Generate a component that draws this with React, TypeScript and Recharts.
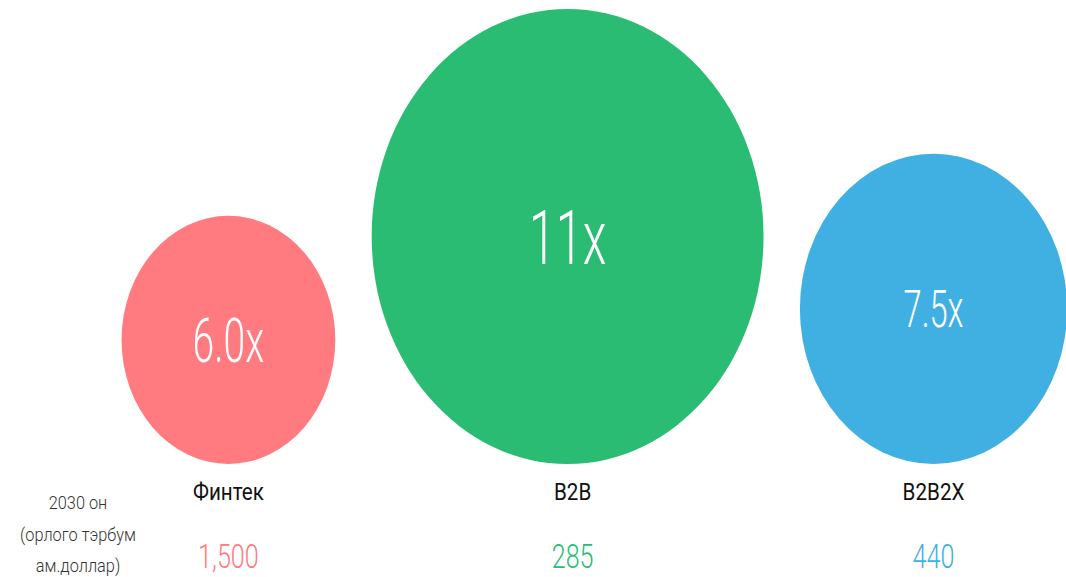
import { BarChart, Bar, XAxis, YAxis, LabelList } from 'recharts';

// chart data
const categories = ['Финтек', 'B2B', 'B2B2X'];
const multiples = [6.0, 11, 7.5];
const multipleLabels = ['6.0x', '11x', '7.5x'];
const revenue2030 = [1500, 285, 440];
const noteLines = ['2030 он', '(орлого тэрбум', 'ам.доллар)'];

const COLORS = ['#FF7B7F', '#2BBC74', '#40B0E3'];
const BUBBLE_FONT = [61, 76, 51];
const FONT = 'Roboto, "Liberation Sans", sans-serif';

const W = 1066;
const H = 577;
const MARGIN = { top: 9, right: 0, bottom: 113, left: 0 };
const Y_MAX = 11;
const ASPECT = 1.161; // bubble height / width
const LEFT_PAD = 3.4; // in multiple-units
const GAP = 1.02;

const plotH = H - MARGIN.top - MARGIN.bottom;
const unitPx = plotH / Y_MAX / ASPECT;
const X_MAX = W / unitPx;
const baseline = MARGIN.top + plotH;

let cursor = LEFT_PAD;
const data = categories.map((name, i) => {
  const pos = cursor + multiples[i] / 2;
  cursor += multiples[i] + GAP;
  return { name, pos, multiple: multiples[i], revenue: revenue2030[i] };
});

const Bubble = (props: any) => {
  const { x, y, width, height, index } = props;
  const cx = x + width / 2;
  const ry = height / 2;
  const rx = ry / ASPECT;
  const cy = y + ry;
  const fs = BUBBLE_FONT[index];
  return (
    <g>
      <ellipse cx={cx} cy={cy} rx={rx} ry={ry} fill={COLORS[index]} />
      <text
        transform={`translate(${cx},${cy + fs * 0.36}) scale(0.64,1)`}
        textAnchor="middle"
        fill="#fff"
        fontSize={fs}
        fontFamily={FONT}
        fontWeight={300}
      >
        {multipleLabels[index]}
      </text>
    </g>
  );
};

const CategoryLabel = (props: any) => {
  const { x, width, index } = props;
  const cx = Number(x) + Number(width) / 2 + (index === 1 ? 5 : 0);
  return (
    <g>
      <text
        transform={`translate(${cx},${baseline + 36}) scale(0.86,1)`}
        textAnchor="middle"
        fill="#111"
        fontSize={24}
        fontFamily={FONT}
      >
        {categories[index]}
      </text>
      <text
        transform={`translate(${cx},${baseline + 104}) scale(0.74,1)`}
        textAnchor="middle"
        fill={COLORS[index]}
        fontSize={34}
        fontFamily={FONT}
        fontWeight={300}
      >
        {revenue2030[index].toLocaleString('en-US')}
      </text>
    </g>
  );
};

export default function App() {
  return (
    <div style={{ position: 'absolute', left: 0, top: 0, width: W, height: H, background: '#fff' }}>
      <BarChart width={W} height={H} data={data} margin={MARGIN}>
        <XAxis type="number" dataKey="pos" domain={[0, X_MAX]} hide />
        <YAxis type="number" domain={[0, Y_MAX]} hide />
        <Bar dataKey="multiple" barSize={10} shape={<Bubble />} isAnimationActive={false}>
          <LabelList dataKey="name" content={<CategoryLabel />} />
        </Bar>
      </BarChart>
      <svg width={160} height={H} style={{ position: 'absolute', left: 0, top: 0, pointerEvents: 'none' }}>
        {noteLines.map((line, i) => (
          <text
            key={line}
            transform={`translate(78,${509 + i * 31.5}) scale(0.86,1)`}
            textAnchor="middle"
            fill="#333"
            fontSize={19}
            fontFamily={FONT}
            fontWeight={300}
          >
            {line}
          </text>
        ))}
      </svg>
    </div>
  );
}
